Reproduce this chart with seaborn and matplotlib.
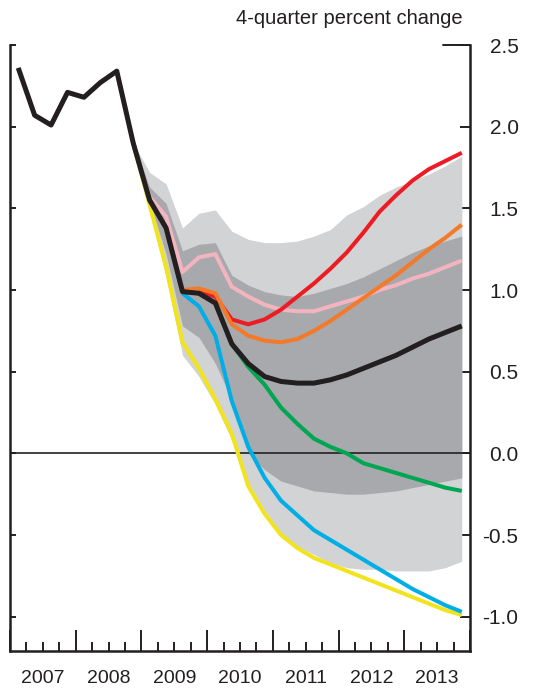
import numpy as np
import pandas as pd
import matplotlib
matplotlib.use("Agg")
import matplotlib.pyplot as plt
import seaborn as sns

# quarterly data, 2007Q1 .. 2013Q4 (forecast from 2008Q4)
years = [2007, 2008, 2009, 2010, 2011, 2012, 2013]
quarters = [(y, q) for y in years for q in range(1, 5)]
NA = np.nan

baseline = [2.36, 2.07, 2.01, 2.21, 2.18, 2.27, 2.34, 1.90, 1.55, 1.38,
            0.99, 0.98, 0.92, 0.67, 0.55, 0.47, 0.44, 0.43, 0.43, 0.45,
            0.48, 0.52, 0.56, 0.60, 0.65, 0.70, 0.74, 0.78]
yellow = [NA] * 7 + [1.90, 1.52, 1.14, 0.68, 0.52, 0.33, 0.12, -0.20, -0.37, -0.50,
                     -0.58, -0.64, -0.68, -0.72, -0.76, -0.80, -0.84, -0.88, -0.92, -0.96, -0.99]
blue = [NA] * 10 + [0.98, 0.90, 0.72, 0.32, 0.04, -0.15, -0.29, -0.38, -0.47,
                    -0.53, -0.59, -0.65, -0.71, -0.77, -0.83, -0.88, -0.93, -0.97]
green = [NA] * 12 + [0.92, 0.67, 0.53, 0.42, 0.28, 0.18, 0.09, 0.04, 0.00,
                     -0.06, -0.09, -0.12, -0.15, -0.18, -0.21, -0.23]
pink = [NA] * 7 + [1.90, 1.57, 1.45, 1.11, 1.20, 1.22, 1.02, 0.96, 0.91, 0.88,
                   0.87, 0.87, 0.90, 0.93, 0.96, 1.00, 1.03, 1.07, 1.10, 1.14, 1.18]
orange = [NA] * 9 + [1.38, 1.00, 1.01, 0.98, 0.79, 0.72, 0.69, 0.68, 0.70, 0.75,
                     0.81, 0.88, 0.95, 1.02, 1.09, 1.17, 1.25, 1.32, 1.40]
red = [NA] * 11 + [0.99, 0.96, 0.82, 0.79, 0.82, 0.88, 0.96, 1.04, 1.13, 1.23,
                   1.35, 1.48, 1.58, 1.67, 1.74, 1.79, 1.84]

outer_hi = [NA] * 7 + [1.90, 1.72, 1.65, 1.38, 1.47, 1.49, 1.36, 1.31, 1.29, 1.29,
                       1.30, 1.33, 1.37, 1.46, 1.51, 1.58, 1.63, 1.67, 1.71, 1.76, 1.82]
outer_lo = [NA] * 7 + [1.90, 1.48, 1.08, 0.60, 0.47, 0.30, 0.08, -0.18, -0.35, -0.49,
                       -0.57, -0.62, -0.67, -0.70, -0.71, -0.71, -0.72, -0.72, -0.72, -0.70, -0.66]
inner_hi = [NA] * 7 + [1.90, 1.63, 1.53, 1.24, 1.28, 1.29, 1.09, 1.03, 0.99, 0.97,
                       0.96, 0.98, 1.01, 1.04, 1.08, 1.13, 1.18, 1.23, 1.27, 1.30, 1.33]
inner_lo = [NA] * 7 + [1.90, 1.54, 1.22, 0.78, 0.71, 0.55, 0.33, 0.00, -0.10, -0.17,
                       -0.20, -0.23, -0.24, -0.25, -0.25, -0.24, -0.23, -0.21, -0.19, -0.17, -0.15]

df = pd.DataFrame({
    "x": [y + (q - 0.5) / 4 for y, q in quarters],
    "baseline": baseline, "yellow": yellow, "blue": blue, "green": green,
    "pink": pink, "orange": orange, "red": red,
    "outer_hi": outer_hi, "outer_lo": outer_lo,
    "inner_hi": inner_hi, "inner_lo": inner_lo,
})

sns.set_style("ticks")
plt.rcParams["font.family"] = ["Liberation Sans", "DejaVu Sans"]
plt.rcParams["axes.unicode_minus"] = False

fig = plt.figure(figsize=(5.44, 6.90), dpi=100)
ax = fig.add_axes([10 / 544, 39 / 690, 460 / 544, 606 / 690])

# uncertainty bands
ax.fill_between(df["x"], df["outer_lo"], df["outer_hi"], color="#d1d3d4", lw=0, zorder=1)
ax.fill_between(df["x"], df["inner_lo"], df["inner_hi"], color="#a7a9ac", lw=0, zorder=2)
ax.axhline(0, color="#231f20", lw=1.2, zorder=3)

styles = [
    ("yellow", "#f2e41c", 2.9),
    ("blue", "#00aee6", 2.9),
    ("green", "#00a651", 2.9),
    ("pink", "#f2b5c0", 2.9),
    ("red", "#ed1c24", 2.9),
    ("orange", "#f47a2a", 2.9),
    ("baseline", "#231f20", 3.6),
]
for z, (name, col, lw) in enumerate(styles):
    sns.lineplot(data=df, x="x", y=name, ax=ax, color=col, linewidth=lw,
                 zorder=4 + z, solid_capstyle="butt")

ax.set_xlim(2007, 2014)
ax.set_ylim(-1.21, 2.5)
ax.set_xlabel("")
ax.set_ylabel("")

yt = np.arange(-1.0, 2.51, 0.5)
ax.set_yticks(yt)
ax.set_yticklabels([f"{v:.1f}" for v in yt])
ax.tick_params(axis="y", which="major", left=True, right=True, labelleft=False,
               labelright=True, direction="in", width=1.4, pad=35, labelsize=15,
               colors="#231f20")
for t in ax.yaxis.get_major_ticks():
    t.tick1line.set_markersize(4)
    t.tick2line.set_markersize(7)
    t.label2.set_horizontalalignment("right")
# longer cap at the top of the right axis
ax.plot([0.942, 1.0], [1.0, 1.0], transform=ax.transAxes, color="#231f20",
        lw=1.4, clip_on=False, zorder=20)

ax.set_xticks(range(2007, 2015))
ax.set_xticks(np.arange(2007, 2014.01, 0.25), minor=True)
ax.tick_params(axis="x", which="major", direction="in", length=15, width=1.4,
               labelbottom=False, colors="#231f20")
ax.tick_params(axis="x", which="minor", direction="in", length=6.5, width=1.4,
               labelbottom=False, colors="#231f20")
for y in years:
    ax.text(y + 0.5, -0.045, str(y), transform=ax.get_xaxis_transform(),
            ha="center", va="center", fontsize=14, color="#231f20")

ax.spines["top"].set_visible(False)
for s in ["left", "right", "bottom"]:
    ax.spines[s].set_linewidth(1.8)
    ax.spines[s].set_color("#231f20")

fig.text(463 / 544, 1 - 18 / 690, "4-quarter percent change", ha="right",
         va="center", fontsize=14.5, color="#231f20")

fig.savefig("out.png", dpi=100)
